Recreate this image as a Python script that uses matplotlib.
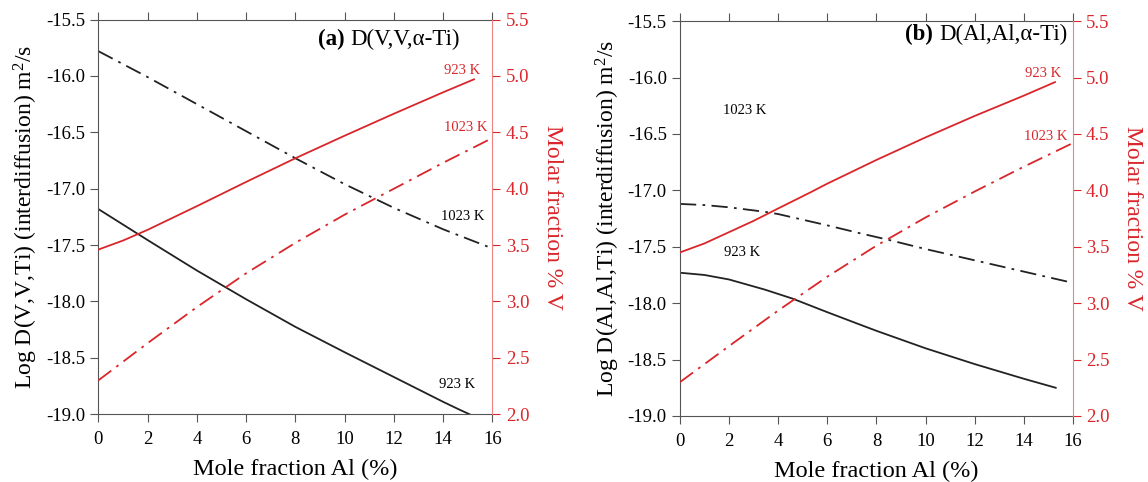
import matplotlib
matplotlib.use("Agg")

import matplotlib.pyplot as plt

plt.rcParams["font.family"] = ["Liberation Serif", "DejaVu Serif"]
plt.rcParams["axes.unicode_minus"] = False

RED = "#d9262b"
SPINE = "#555555"
DASHDOT = (0, (9, 3.5, 1.5, 3.5))

# ---- panel (a): D(V,V,alpha-Ti) ----
a_x_1023 = [0, 2, 4, 6, 8, 10, 12, 14, 16]
a_logd_1023 = [-15.78, -16.01, -16.25, -16.49, -16.73, -16.96, -17.17, -17.36, -17.53]
a_x_923 = [0, 2, 4, 6, 8, 10, 12, 14, 14.67, 15.07]
a_logd_923 = [-17.18, -17.455, -17.725, -17.98, -18.225, -18.45, -18.67, -18.89, -18.96, -19.0]
a_xv_923 = [0, 1, 2, 4, 6, 8, 10, 12, 14, 15.25]
a_v_923 = [3.46, 3.54, 3.635, 3.845, 4.06, 4.27, 4.47, 4.665, 4.855, 4.97]
a_xv_1023 = [0, 2, 4, 6, 8, 10, 12, 14, 16]
a_v_1023 = [2.30, 2.63, 2.95, 3.25, 3.52, 3.77, 4.00, 4.23, 4.45]

# ---- panel (b): D(Al,Al,alpha-Ti) ----
b_x_1023 = [0, 1, 2, 3.46, 4, 6, 7.33, 8.52, 10, 12, 14, 16]
b_logd_1023 = [-17.12, -17.13, -17.15, -17.19, -17.21, -17.31, -17.38, -17.44, -17.52, -17.62, -17.72, -17.82]
b_x_923 = [0, 1, 2, 3.46, 4.59, 6, 7.33, 8, 10, 12, 14, 15.3]
b_logd_923 = [-17.73, -17.75, -17.79, -17.88, -17.96, -18.08, -18.19, -18.245, -18.40, -18.54, -18.67, -18.75]
b_xv_923 = [0, 1, 2, 3, 4, 5.29, 6, 8, 10, 12, 14, 15.27]
b_v_923 = [3.45, 3.53, 3.63, 3.73, 3.84, 3.98, 4.06, 4.27, 4.47, 4.66, 4.84, 4.96]
b_xv_1023 = [0, 2, 4, 6, 8, 10, 12, 14, 16]
b_v_1023 = [2.30, 2.62, 2.935, 3.235, 3.51, 3.76, 3.99, 4.21, 4.42]

x_ticks = [0, 2, 4, 6, 8, 10, 12, 14, 16]
left_ticks = [-19.0, -18.5, -18.0, -17.5, -17.0, -16.5, -16.0, -15.5]
right_ticks = [2.0, 2.5, 3.0, 3.5, 4.0, 4.5, 5.0, 5.5]

panels = [
    dict(rect=[0.0856, 0.1405, 0.3434, 0.819], tag="(a)", title="D(V,V,α-Ti)",
         title_xy=(14.68, -15.68),
         ylabel="Log D(V,V,Ti) (interdiffusion) m$\\mathregular{^2}$/s",
         x1023=a_x_1023, d1023=a_logd_1023, x923=a_x_923, d923=a_logd_923,
         xv923=a_xv_923, v923=a_v_923, xv1023=a_xv_1023, v1023=a_v_1023,
         labels=[(14.78, -15.95, "923 K", RED), (14.9, -16.46, "1023 K", RED),
                 (14.78, -17.25, "1023 K", "black"), (14.55, -18.74, "923 K", "black")]),
    dict(rect=[0.5923, 0.137, 0.3423, 0.819], tag="(b)", title="D(Al,Al,α-Ti)",
         title_xy=(15.77, -15.62),
         ylabel="Log D(Al,Al,Ti) (interdiffusion) m$\\mathregular{^2}$/s",
         x1023=b_x_1023, d1023=b_logd_1023, x923=b_x_923, d923=b_logd_923,
         xv923=b_xv_923, v923=b_v_923, xv1023=b_xv_1023, v1023=b_v_1023,
         labels=[(14.78, -15.96, "923 K", RED), (14.88, -16.52, "1023 K", RED),
                 (2.65, -16.29, "1023 K", "black"), (2.51, -17.55, "923 K", "black")]),
]

fig = plt.figure(figsize=(11.48, 4.82), dpi=100)

for p in panels:
    ax = fig.add_axes(p["rect"])
    ax2 = ax.twinx()

    ax.plot(p["x1023"], p["d1023"], color="#222222", lw=1.3, linestyle=DASHDOT)
    ax.plot(p["x923"], p["d923"], color="#222222", lw=1.3)
    ax2.plot(p["xv923"], p["v923"], color=RED, lw=1.3)
    ax2.plot(p["xv1023"], p["v1023"], color=RED, lw=1.3, linestyle=DASHDOT)

    ax.set_xlim(0, 16)
    ax.set_ylim(-19.0, -15.5)
    ax2.set_ylim(2.0, 5.5)
    ax.set_xticks(x_ticks)
    ax.set_yticks(left_ticks)
    ax.set_yticklabels([f"{v:.1f}" for v in left_ticks])
    ax2.set_yticks(right_ticks)
    ax2.set_yticklabels([f"{v:.1f}" for v in right_ticks])

    for s in ["left", "top", "bottom"]:
        ax.spines[s].set_color(SPINE)
    ax.spines["right"].set_visible(False)
    for s in ["left", "top", "bottom"]:
        ax2.spines[s].set_visible(False)
    ax2.spines["right"].set_color("#f08080")

    ax.tick_params(axis="both", direction="out", length=6, color=SPINE,
                   labelsize=13.5, top=True, labeltop=False)
    ax.tick_params(axis="x", pad=6)
    ax2.tick_params(axis="y", direction="out", length=6, color=RED,
                    labelcolor=RED, labelsize=13.5)

    ax.set_xlabel("Mole fraction Al (%)", fontsize=17.5, labelpad=8)
    ax.set_ylabel(p["ylabel"], fontsize=17, labelpad=4)
    ax2.set_ylabel("Molar fraction % V", fontsize=17, color=RED, labelpad=9,
                   rotation=270, va="bottom")

    for x, y, s, c in p["labels"]:
        ax.text(x, y, s, fontsize=10.5, color=c, ha="center", va="center")

    t = ax.text(p["title_xy"][0], p["title_xy"][1], p["title"], fontsize=16.5,
                ha="right", va="center")
    ax.annotate(p["tag"] + " ", xy=(0, 0.5), xycoords=t, fontsize=16.5,
                fontweight="bold", ha="right", va="center")

fig.savefig("out.png", dpi=100)
plt.close(fig)
